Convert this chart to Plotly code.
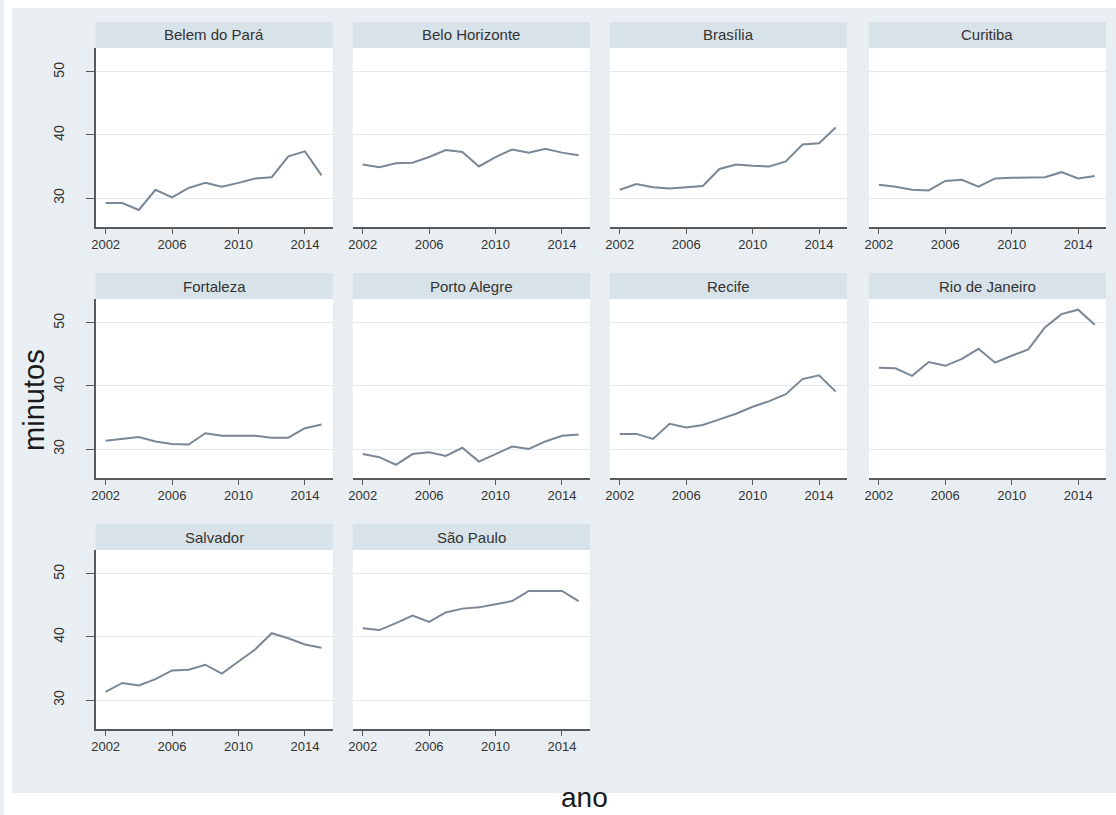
import plotly.graph_objects as go

W, H = 1116, 815

years = list(range(2002, 2016))
cities = ["Belem do Pará", "Belo Horizonte", "Brasília", "Curitiba",
          "Fortaleza", "Porto Alegre", "Recife", "Rio de Janeiro",
          "Salvador", "São Paulo"]

belem = [29.2, 29.2, 28.1, 31.3, 30.1, 31.6, 32.4, 31.8, 32.4, 33.1, 33.3, 36.6, 37.4, 33.6]
belo_horizonte = [35.3, 34.9, 35.5, 35.6, 36.5, 37.6, 37.3, 35.0, 36.5, 37.7, 37.2, 37.8, 37.2, 36.8]
brasilia = [31.3, 32.2, 31.7, 31.5, 31.7, 31.9, 34.6, 35.3, 35.1, 35.0, 35.8, 38.5, 38.7, 41.2]
curitiba = [32.1, 31.8, 31.3, 31.2, 32.7, 32.9, 31.8, 33.1, 33.2, 33.2, 33.3, 34.1, 33.1, 33.5]
fortaleza = [31.3, 31.6, 31.9, 31.2, 30.8, 30.7, 32.5, 32.1, 32.1, 32.1, 31.8, 31.8, 33.3, 33.9]
porto_alegre = [29.2, 28.7, 27.5, 29.2, 29.5, 28.9, 30.2, 28.0, 29.2, 30.4, 30.0, 31.2, 32.1, 32.3]
recife = [32.4, 32.4, 31.6, 34.0, 33.4, 33.8, 34.7, 35.6, 36.7, 37.6, 38.7, 41.1, 41.7, 39.1]
rio = [42.9, 42.8, 41.6, 43.8, 43.2, 44.3, 45.9, 43.7, 44.8, 45.8, 49.3, 51.4, 52.1, 49.7]
salvador = [31.3, 32.7, 32.3, 33.3, 34.7, 34.8, 35.6, 34.2, 36.1, 38.0, 40.6, 39.8, 38.8, 38.3]
sao_paulo = [41.4, 41.1, 42.2, 43.4, 42.4, 43.9, 44.5, 44.7, 45.2, 45.7, 47.3, 47.3, 47.3, 45.7]

series = [belem, belo_horizonte, brasilia, curitiba, fortaleza,
          porto_alegre, recife, rio, salvador, sao_paulo]

x_ticks = [2002, 2006, 2010, 2014]
y_ticks = [30, 40, 50]

# layout in pixels
col_left = [92, 350, 608, 868]
panel_w = 238
row_top = [48, 299, 550]
panel_h = 179
strip_h = 26

PAGE_BG = "#e8eef1"
STRIP_BG = "#d8e2e9"
LINE_C = "#7b8794"
FONT = "Liberation Sans, Arial, sans-serif"


def px_x(p):
    return p / W


def px_y(p):
    return 1 - p / H


fig = go.Figure()
shapes = []
annotations = []

# white borders around the grey page area
for (a, b, cc, d) in [(0, 8, 0, H), (0, W, 0, 8), (0, W, 793, H)]:
    shapes.append(dict(type="rect", xref="paper", yref="paper",
                       x0=px_x(a), x1=px_x(b), y0=px_y(d), y1=px_y(cc),
                       fillcolor="white", line=dict(width=0), layer="below"))

for i, (city, vals) in enumerate(zip(cities, series)):
    r, c = divmod(i, 4)
    n = i + 1
    xa = "xaxis" if n == 1 else f"xaxis{n}"
    ya = "yaxis" if n == 1 else f"yaxis{n}"
    xr = "x" if n == 1 else f"x{n}"
    yr = "y" if n == 1 else f"y{n}"
    x0p, x1p = col_left[c], col_left[c] + panel_w
    y0p, y1p = row_top[r], row_top[r] + panel_h

    fig.add_trace(go.Scatter(x=years, y=vals, mode="lines",
                             line=dict(color=LINE_C, width=2),
                             xaxis=xr, yaxis=yr, showlegend=False,
                             hoverinfo="skip"))

    fig.layout[xa] = dict(domain=[px_x(x0p), px_x(x1p)], anchor=yr,
                          range=[2001.4, 2015.68], tickvals=x_ticks,
                          showgrid=False, zeroline=False,
                          showline=True, linecolor="#5a5a5a", linewidth=1.5,
                          ticks="outside", ticklen=5, tickcolor="#5a5a5a",
                          tickfont=dict(size=13, color="#333333", family=FONT))
    first_col = (c == 0)
    fig.layout[ya] = dict(domain=[px_y(y1p), px_y(y0p)], anchor=xr,
                          range=[25.4, 53.8], tickvals=y_ticks,
                          showgrid=True, gridcolor="#e3e9ed", gridwidth=1,
                          zeroline=False,
                          showline=first_col, linecolor="#5a5a5a", linewidth=1.5,
                          ticks="outside" if first_col else "",
                          ticklen=8, tickcolor="#5a5a5a",
                          ticklabelstandoff=16,
                          showticklabels=first_col, tickangle=-90,
                          tickfont=dict(size=14, color="#333333", family=FONT))

    # strip
    shapes.append(dict(type="rect", xref="paper", yref="paper",
                       x0=px_x(x0p), x1=px_x(x1p),
                       y0=px_y(y0p), y1=px_y(y0p - strip_h),
                       fillcolor=STRIP_BG, line=dict(width=0)))
    annotations.append(dict(xref="paper", yref="paper",
                            x=px_x((x0p + x1p) / 2), y=px_y(y0p - strip_h / 2),
                            text=city, showarrow=False,
                            xanchor="center", yanchor="middle",
                            font=dict(size=15, color="#333333", family=FONT)))

annotations.append(dict(xref="paper", yref="paper", x=px_x(30), y=px_y(400),
                        text="minutos", textangle=-90, showarrow=False,
                        xanchor="center", yanchor="middle",
                        font=dict(size=29, color="#1a1a1a", family=FONT)))
annotations.append(dict(xref="paper", yref="paper", x=px_x(583), y=px_y(797),
                        text="ano", showarrow=False,
                        xanchor="center", yanchor="middle",
                        font=dict(size=28, color="#1a1a1a", family=FONT)))

fig.update_layout(width=W, height=H, margin=dict(l=0, r=0, t=0, b=0),
                  paper_bgcolor=PAGE_BG, plot_bgcolor="white",
                  shapes=shapes, annotations=annotations,
                  font=dict(family=FONT))

fig.write_html("out.html")
